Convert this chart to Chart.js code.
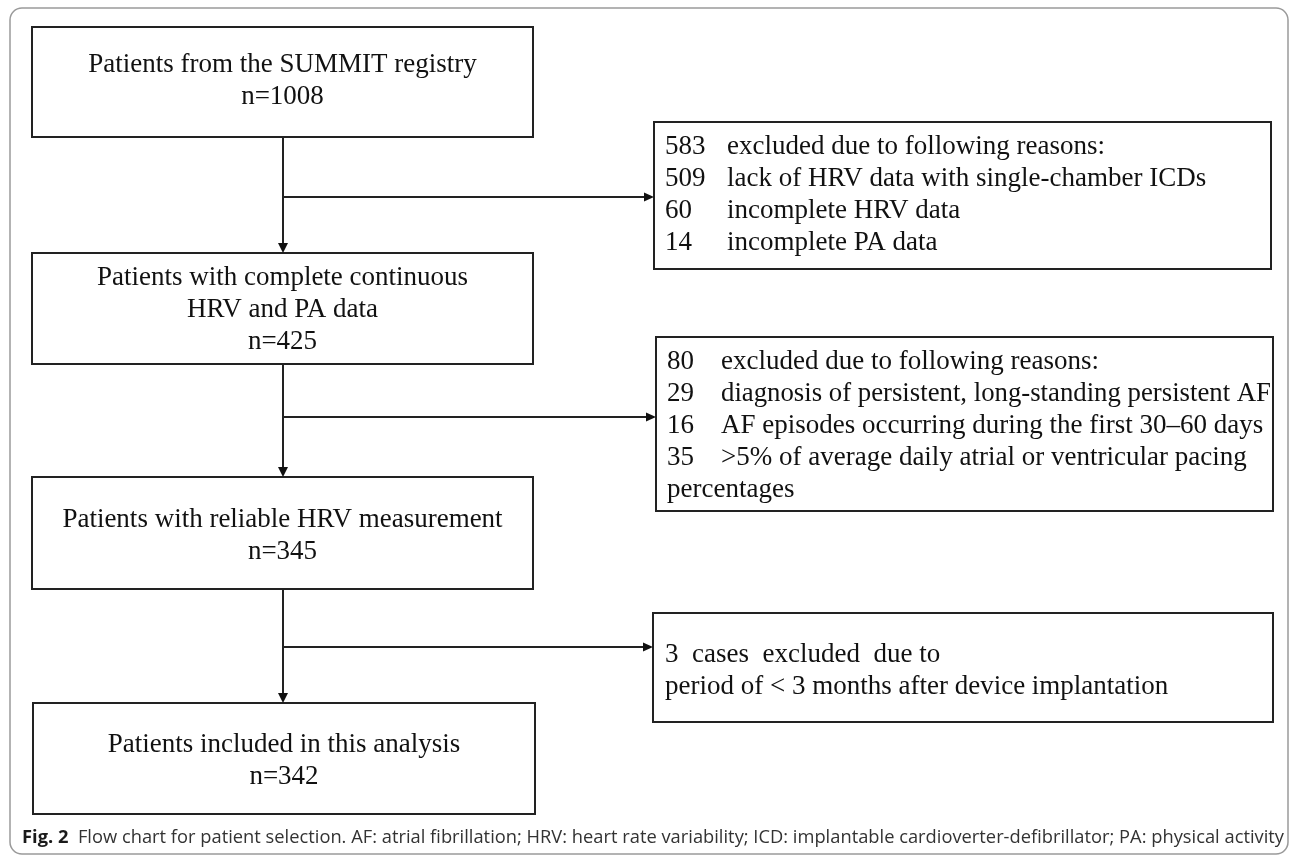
<!DOCTYPE html>
<html>
<head>
<meta charset="utf-8">
<script src="https://cdn.jsdelivr.net/npm/chart.js@4.4.1/dist/chart.umd.min.js"></script>
<style>
  html, body { margin: 0; padding: 0; background: #fff; }
  #wrap { width: 1290px; height: 856px; }
</style>
</head>
<body>
<div id="wrap"><canvas id="flowChart" width="1290" height="856"></canvas></div>
<script>
// Main flow: box titles and patient counts
const stageTitles = [
    ['Patients from the SUMMIT registry'],
    ['Patients with complete continuous', 'HRV and PA data'],
    ['Patients with reliable HRV measurement'],
    ['Patients included in this analysis']
];
const stageCounts = [1008, 425, 345, 342];

// Exclusions between stages
const excludedCounts = [583, 80, 3];
const excludedHeaders = ['excluded due to following reasons:', 'excluded due to following reasons:', 'cases  excluded  due to'];
const reasonCounts = [[509, 60, 14], [29, 16, 35], []];
const reasonTexts = [
    ['lack of HRV data with single-chamber ICDs', 'incomplete HRV data', 'incomplete PA data'],
    ['diagnosis of persistent, long-standing persistent AF', 'AF episodes occurring during the first 30\u201360 days', '>5% of average daily atrial or ventricular pacing'],
    []
];
const excludedNotes = [[], ['percentages'], ['period of < 3 months after device implantation']];

const captionLabel = 'Fig. 2';
const captionText = 'Flow chart for patient selection. AF: atrial fibrillation; HRV: heart rate variability; ICD: implantable cardioverter-defibrillator; PA: physical activity';

// layout in picture units (mapped through the chart scales)
const stageBoxes = [
    { x0: 32, y0: 27, x1: 533, y1: 137, top: 65 },
    { x0: 32, y0: 253, x1: 533, y1: 364, top: 278 },
    { x0: 32, y0: 477, x1: 533, y1: 589, top: 520 },
    { x0: 33, y0: 703, x1: 535, y1: 814, top: 745 }
];
const excludeBoxes = [
    { x0: 654, y0: 122, x1: 1271, y1: 269, top: 147, branch: 197, numDx: 11, txtDx: 73, inline: false },
    { x0: 656, y0: 337, x1: 1273, y1: 511, top: 362, branch: 417, numDx: 11, txtDx: 65, inline: false },
    { x0: 653, y0: 613, x1: 1273, y1: 722, top: 655, branch: 647, numDx: 12, txtDx: 0, inline: true }
];
const flowX = 283;
const lineGap = 32;

const flowPlugin = {
    id: 'flowPlugin',
    afterDraw(chart) {
        const ctx = chart.ctx;
        const sx = chart.scales.x, sy = chart.scales.y;
        const px = v => sx.getPixelForValue(v);
        const py = v => sy.getPixelForValue(v);
        const serif = '27px "Liberation Serif", "Times New Roman", serif';

        ctx.save();

        // outer frame
        ctx.strokeStyle = '#9a9a9a';
        ctx.lineWidth = 1.5;
        ctx.beginPath();
        ctx.roundRect(px(10), py(8), px(1288) - px(10), py(854) - py(8), 12);
        ctx.stroke();

        ctx.strokeStyle = '#222';
        ctx.fillStyle = '#111';
        ctx.lineWidth = 2;

        function arrowHead(x, y, dir) {
            ctx.beginPath();
            if (dir === 'down') {
                ctx.moveTo(x, y); ctx.lineTo(x - 5, y - 10); ctx.lineTo(x + 5, y - 10);
            } else {
                ctx.moveTo(x, y); ctx.lineTo(x - 10, y - 4.5); ctx.lineTo(x - 10, y + 4.5);
            }
            ctx.closePath();
            ctx.fill();
        }

        // main boxes
        stageBoxes.forEach((b, i) => {
            ctx.strokeRect(px(b.x0), py(b.y0), px(b.x1) - px(b.x0), py(b.y1) - py(b.y0));
            const lines = stageTitles[i].concat(['n=' + stageCounts[i]]);
            ctx.font = serif;
            ctx.textAlign = 'center';
            ctx.textBaseline = 'middle';
            const cx = px((b.x0 + b.x1) / 2);
            lines.forEach((t, k) => ctx.fillText(t, cx, py(b.top + k * lineGap)));
        });

        // vertical connectors
        for (let i = 0; i < stageBoxes.length - 1; i++) {
            const yA = py(stageBoxes[i].y1), yB = py(stageBoxes[i + 1].y0);
            ctx.beginPath();
            ctx.moveTo(px(flowX), yA);
            ctx.lineTo(px(flowX), yB - 8);
            ctx.stroke();
            arrowHead(px(flowX), yB, 'down');
        }

        // exclusion boxes and branches
        excludeBoxes.forEach((b, i) => {
            ctx.strokeRect(px(b.x0), py(b.y0), px(b.x1) - px(b.x0), py(b.y1) - py(b.y0));
            ctx.beginPath();
            ctx.moveTo(px(flowX), py(b.branch));
            ctx.lineTo(px(b.x0) - 8, py(b.branch));
            ctx.stroke();
            arrowHead(px(b.x0), py(b.branch), 'right');

            ctx.font = serif;
            ctx.textAlign = 'left';
            ctx.textBaseline = 'middle';
            const numX = px(b.x0 + b.numDx);
            const txtX = px(b.x0 + b.txtDx);
            const maxW = px(b.x1) - txtX - 2;
            let row = 0;
            if (b.inline) {
                ctx.fillText(excludedCounts[i] + '  ' + excludedHeaders[i], numX, py(b.top));
            } else {
                ctx.fillText(String(excludedCounts[i]), numX, py(b.top));
                ctx.fillText(excludedHeaders[i], txtX, py(b.top), maxW);
            }
            row++;
            reasonCounts[i].forEach((c, k) => {
                ctx.fillText(String(c), numX, py(b.top + row * lineGap));
                ctx.fillText(reasonTexts[i][k], txtX, py(b.top + row * lineGap), maxW);
                row++;
            });
            excludedNotes[i].forEach(t => {
                ctx.fillText(t, numX, py(b.top + row * lineGap));
                row++;
            });
        });

        // caption
        const capY = py(838);
        ctx.textBaseline = 'middle';
        ctx.textAlign = 'left';
        const boldFont = 'bold 18px "Open Sans", "Noto Sans", sans-serif';
        const regFont = '18px "Open Sans", "Noto Sans", sans-serif';
        ctx.font = boldFont;
        const wLabel = ctx.measureText(captionLabel + '  ').width;
        ctx.font = regFont;
        const wText = ctx.measureText(captionText).width;
        const x0 = px(22), x1 = px(1284);
        const k = (x1 - x0) / (wLabel + wText);
        ctx.save();
        ctx.translate(x0, capY);
        ctx.scale(k, 1);
        ctx.fillStyle = '#1a1a1a';
        ctx.font = boldFont;
        ctx.fillText(captionLabel, 0, 0);
        ctx.font = regFont;
        ctx.fillStyle = '#333';
        ctx.fillText(captionText, wLabel, 0);
        ctx.restore();

        ctx.restore();
    }
};

new Chart(document.getElementById('flowChart').getContext('2d'), {
    type: 'scatter',
    data: { datasets: [{ data: [], pointRadius: 0 }] },
    options: {
        responsive: false,
        animation: false,
        layout: { padding: 0 },
        plugins: { legend: { display: false }, tooltip: { enabled: false } },
        scales: {
            x: { type: 'linear', min: 0, max: 1290, display: false },
            y: { type: 'linear', min: 0, max: 856, reverse: true, display: false }
        }
    },
    plugins: [flowPlugin]
});
</script>
</body>
</html>
